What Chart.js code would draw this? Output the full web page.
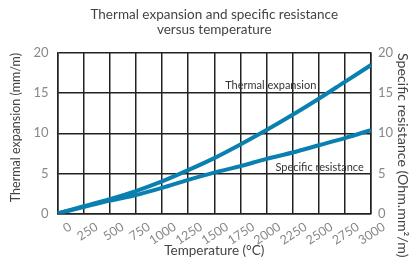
<!DOCTYPE html>
<html lang="en">
<head>
    <meta charset="UTF-8">
    <title>Thermal expansion and specific resistance versus temperature</title>
    <script src="https://cdn.jsdelivr.net/npm/chart.js"></script>
    <style>
        html, body {
            margin: 0;
            padding: 0;
            background: #fff;
        }
        .chart-wrapper {
            width: 410px;
            height: 262px;
        }
    </style>
</head>
<body>
    <div class="chart-wrapper">
        <canvas id="thermalChart"></canvas>
    </div>

    <script>
        const temperatures = [0, 250, 500, 750, 1000, 1250, 1500, 1750, 2000, 2250, 2500, 2750, 3000];
        const thermalExpansion = [0, 0.9, 1.8, 2.8, 4.0, 5.4, 6.9, 8.6, 10.4, 12.3, 14.3, 16.4, 18.5];
        const specificResistance = [0, 0.8, 1.6, 2.3, 3.2, 4.2, 5.1, 5.9, 6.8, 7.6, 8.5, 9.4, 10.4];
        const curveLabels = ['Thermal expansion', 'Specific resistance'];
        const labelAnchors = [[1605, 15.9], [2085, 5.7]];

        const lineColor = '#0a80b0';
        const gridColor = '#222';
        const fontFamily = 'Lato, "Open Sans", sans-serif';

        // inline labels next to each curve
        const curveLabelPlugin = {
            id: 'curveLabels',
            afterDatasetsDraw(chart) {
                const ctx = chart.ctx;
                const x = chart.scales.x;
                const y = chart.scales.y;
                ctx.save();
                ctx.font = '11px ' + fontFamily;
                ctx.fillStyle = '#333';
                ctx.textAlign = 'left';
                ctx.textBaseline = 'middle';
                curveLabels.forEach((text, i) => {
                    ctx.fillText(text, x.getPixelForValue(labelAnchors[i][0]), y.getPixelForValue(labelAnchors[i][1]));
                });
                ctx.restore();
            }
        };

        const toPoints = (values) => values.map((v, i) => ({ x: temperatures[i], y: v }));

        new Chart(document.getElementById('thermalChart').getContext('2d'), {
            type: 'line',
            data: {
                datasets: [{
                    label: curveLabels[0],
                    data: toPoints(thermalExpansion),
                    borderColor: lineColor,
                    borderWidth: 4,
                    pointRadius: 0,
                    tension: 0.4,
                    cubicInterpolationMode: 'monotone',
                    yAxisID: 'y'
                }, {
                    label: curveLabels[1],
                    data: toPoints(specificResistance),
                    borderColor: lineColor,
                    borderWidth: 4,
                    pointRadius: 0,
                    tension: 0.4,
                    cubicInterpolationMode: 'monotone',
                    yAxisID: 'y2'
                }]
            },
            options: {
                responsive: true,
                maintainAspectRatio: false,
                animation: false,
                events: [],
                plugins: {
                    legend: { display: false },
                    tooltip: { enabled: false },
                    title: {
                        display: true,
                        fullSize: false,
                        text: ['Thermal expansion and specific resistance', 'versus temperature'],
                        color: '#444',
                        font: { family: fontFamily, size: 13.5, weight: 'normal', lineHeight: 1.1 },
                        padding: { top: 7.6, bottom: 15.7 }
                    }
                },
                scales: {
                    x: {
                        type: 'linear',
                        min: 0,
                        max: 3000,
                        afterFit: (s) => { s.height = 48.5; },
                        ticks: {
                            stepSize: 250,
                            autoSkip: false,
                            minRotation: 33,
                            maxRotation: 33,
                            labelOffset: 13,
                            padding: 6,
                            color: '#888',
                            font: { family: fontFamily, size: 12.5 },
                            callback: (v) => String(v)
                        },
                        grid: { color: gridColor, lineWidth: 1.5, drawTicks: false },
                        border: { color: gridColor, width: 1.5 },
                        title: {
                            display: true,
                            text: 'Temperature (°C)',
                            color: '#444',
                            font: { family: fontFamily, size: 13.5 },
                            padding: { top: 0, bottom: 3 }
                        }
                    },
                    y: {
                        position: 'left',
                        min: 0,
                        max: 20,
                        afterFit: (s) => { s.width = 57.5; },
                        ticks: {
                            stepSize: 5,
                            padding: 9,
                            color: '#888',
                            font: { family: fontFamily, size: 13 }
                        },
                        grid: { color: gridColor, lineWidth: 1.5, drawTicks: false },
                        border: { color: gridColor, width: 1.5 },
                        title: {
                            display: true,
                            align: 'end',
                            text: 'Thermal expansion (mm/m)',
                            color: '#444',
                            font: { family: fontFamily, size: 12.5 },
                            padding: { top: 8, bottom: 0 }
                        }
                    },
                    y2: {
                        position: 'right',
                        min: 0,
                        max: 20,
                        afterFit: (s) => { s.width = 39; },
                        ticks: {
                            stepSize: 5,
                            padding: 7,
                            color: '#888',
                            font: { family: fontFamily, size: 13 }
                        },
                        grid: { display: false, drawTicks: false },
                        border: { color: gridColor, width: 1.5 },
                        title: {
                            display: true,
                            align: 'end',
                            text: 'Specific resistance (Ohm.mm²/m)',
                            color: '#444',
                            font: { family: fontFamily, size: 14.2, lineHeight: 1.0 },
                            padding: { top: 0, bottom: 0 }
                        }
                    }
                }
            },
            plugins: [curveLabelPlugin]
        });
    </script>
</body>
</html>
